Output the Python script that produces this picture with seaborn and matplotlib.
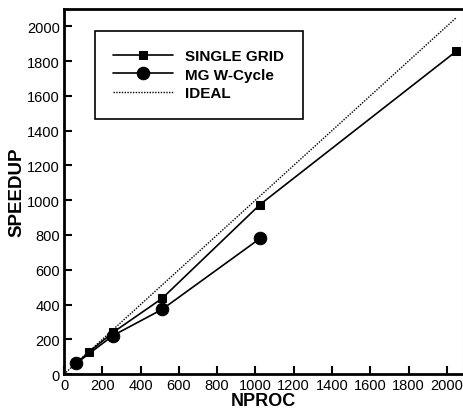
import matplotlib
matplotlib.use("Agg")
import matplotlib.pyplot as plt
import seaborn as sns
import pandas as pd

# Processor counts and measured speedups
single_nproc = [64, 128, 256, 512, 1024, 2048]
single_speedup = [62, 125, 240, 435, 975, 1855]
mg_nproc = [64, 256, 512, 1024]
mg_speedup = [62, 222, 372, 780]
ideal_nproc = [0, 2048]
ideal_speedup = [0, 2048]

x_ticks = [0, 200, 400, 600, 800, 1000, 1200, 1400, 1600, 1800, 2000]
y_ticks = [0, 200, 400, 600, 800, 1000, 1200, 1400, 1600, 1800, 2000]

sns.set_theme(style="ticks")
plt.rcParams["font.family"] = ["Liberation Sans", "DejaVu Sans"]
plt.rcParams["text.color"] = "black"
plt.rcParams["axes.labelcolor"] = "black"

single_df = pd.DataFrame({"NPROC": single_nproc, "SPEEDUP": single_speedup})
mg_df = pd.DataFrame({"NPROC": mg_nproc, "SPEEDUP": mg_speedup})
ideal_df = pd.DataFrame({"NPROC": ideal_nproc, "SPEEDUP": ideal_speedup})

fig = plt.figure(figsize=(4.64, 4.10), dpi=100)
ax = fig.add_axes([0.138, 0.085, 0.86, 0.891])

sns.lineplot(data=single_df, x="NPROC", y="SPEEDUP", ax=ax, color="black",
             linewidth=1.2, marker="s", markersize=6, markeredgecolor="black",
             label="SINGLE GRID")
sns.lineplot(data=mg_df, x="NPROC", y="SPEEDUP", ax=ax, color="black",
             linewidth=1.2, marker="o", markersize=9, markeredgecolor="black",
             label="MG W-Cycle")
sns.lineplot(data=ideal_df, x="NPROC", y="SPEEDUP", ax=ax, color="black",
             linewidth=1.0, linestyle=(0, (1, 1)), label="IDEAL")

ax.set_xlim(0, 2085)
ax.set_ylim(0, 2100)
ax.set_xticks(x_ticks)
ax.set_yticks(y_ticks)
ax.tick_params(direction="in", length=6, width=1.5, labelsize=10.5, pad=3,
               colors="black")

ax.set_xlabel("NPROC", fontsize=13, fontweight="bold", labelpad=0,
              color="black")
ax.set_ylabel("SPEEDUP", fontsize=13.5, fontweight="bold", labelpad=1,
              color="black")

for side in ["left", "bottom", "top"]:
    ax.spines[side].set_linewidth(2.0)
    ax.spines[side].set_color("black")
ax.spines["right"].set_visible(True)
ax.spines["right"].set_linewidth(0.8)
ax.spines["right"].set_color("#bbbbbb")

leg = ax.legend(loc="upper left", bbox_to_anchor=(0.078, 0.94), frameon=True,
                fancybox=False, edgecolor="black", framealpha=1,
                prop={"weight": "bold", "size": 11}, handlelength=3.9,
                borderpad=1.2, labelspacing=0.3, handletextpad=0.8,
                borderaxespad=0)
leg.get_frame().set_linewidth(1.2)
for txt in leg.get_texts():
    txt.set_color("black")

fig.savefig("out.png", dpi=100)
